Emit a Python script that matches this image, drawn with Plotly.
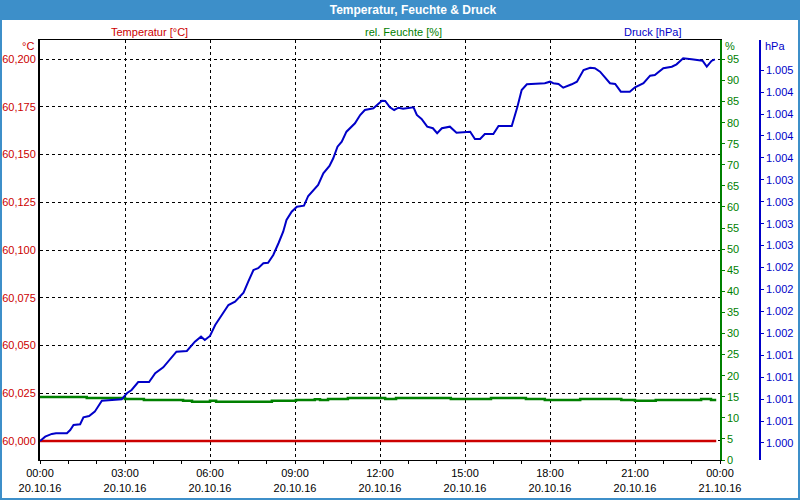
import plotly.graph_objects as go

DAY = "2016-10-20"

# ---- data ----
pressure_times = [
    "00:00", "00:11", "00:25", "00:34", "00:57", "01:04", "01:11", "01:25", "01:32", "01:44",
    "01:56", "02:07", "02:11", "02:53", "03:04", "03:14", "03:28", "03:51", "04:04", "04:21",
    "04:42", "04:49", "05:11", "05:28", "05:41", "05:49", "06:00", "06:11", "06:25", "06:39",
    "06:53", "07:11", "07:21", "07:32", "07:42", "07:53", "08:03", "08:14", "08:25", "08:35",
    "08:42", "08:53", "09:04", "09:19", "09:28", "09:39", "09:49", "10:00", "10:13", "10:21",
    "10:30", "10:39", "10:49", "11:07", "11:18", "11:28", "11:46", "12:04", "12:11", "12:21",
    "12:30", "12:39", "12:49", "13:11", "13:18", "13:28", "13:40", "13:52", "14:01", "14:11",
    "14:28", "14:42", "15:11", "15:21", "15:32", "15:42", "16:00", "16:11", "16:39", "16:51",
    "17:00", "17:11", "17:28", "17:49", "18:00", "18:07", "18:18", "18:28", "18:46", "18:57",
    "19:11", "19:25", "19:35", "19:46", "20:07", "20:18", "20:30", "20:49", "21:00", "21:18",
    "21:32", "21:42", "22:00", "22:18", "22:28", "22:42", "23:00", "23:17", "23:23", "23:32",
    "23:42", "23:49",
]
pressure_hpa = [
    1000.323, 1000.372, 1000.403, 1000.411, 1000.411, 1000.448, 1000.505, 1000.513, 1000.593, 1000.608,
    1000.657, 1000.753, 1000.782, 1000.798, 1000.867, 1000.904, 1000.995, 1000.995, 1001.095, 1001.163,
    1001.303, 1001.341, 1001.349, 1001.455, 1001.512, 1001.474, 1001.520, 1001.645, 1001.759, 1001.873,
    1001.911, 1002.013, 1002.139, 1002.272, 1002.292, 1002.349, 1002.355, 1002.443, 1002.577, 1002.709,
    1002.842, 1002.937, 1002.994, 1003.005, 1003.116, 1003.184, 1003.241, 1003.375, 1003.458, 1003.546,
    1003.678, 1003.735, 1003.849, 1003.945, 1004.039, 1004.096, 1004.116, 1004.202, 1004.199, 1004.127,
    1004.096, 1004.122, 1004.111, 1004.127, 1004.039, 1003.994, 1003.906, 1003.888, 1003.831, 1003.888,
    1003.906, 1003.837, 1003.849, 1003.766, 1003.766, 1003.823, 1003.823, 1003.914, 1003.914, 1004.134,
    1004.324, 1004.389, 1004.393, 1004.401, 1004.419, 1004.401, 1004.393, 1004.350, 1004.389, 1004.419,
    1004.552, 1004.578, 1004.572, 1004.533, 1004.401, 1004.393, 1004.305, 1004.305, 1004.355, 1004.401,
    1004.487, 1004.495, 1004.572, 1004.590, 1004.617, 1004.686, 1004.674, 1004.666, 1004.658, 1004.590,
    1004.655, 1004.674,
]

humidity_times = [
    "00:00", "01:39", "03:00", "03:40", "05:03", "05:22", "06:00", "06:13", "08:11", "09:02",
    "09:42", "09:53", "10:10", "10:52", "12:11", "12:34", "14:30", "15:55", "17:09", "17:49",
    "19:04", "20:31", "21:00", "21:44", "23:20", "23:41", "23:52",
]
humidity_pct = [
    14.94, 14.70, 14.47, 14.23, 14.06, 13.82, 14.06, 13.82, 14.06, 14.23,
    14.39, 14.23, 14.47, 14.70, 14.47, 14.70, 14.47, 14.70, 14.47, 14.23,
    14.47, 14.23, 14.06, 14.23, 14.47, 14.23, 14.23,
]

temperature_times = ["00:00", "06:00", "12:00", "18:00", "23:52"]
temperature_c = [60.000, 60.000, 60.000, 60.000, 60.000]

pressure_tick_values = [1000.30, 1000.55, 1000.80, 1001.05, 1001.30, 1001.55, 1001.80, 1002.05, 1002.30,
                        1002.55, 1002.80, 1003.05, 1003.30, 1003.55, 1003.80, 1004.05, 1004.30, 1004.55]
pressure_tick_labels = ["1.000", "1.001", "1.001", "1.001", "1.001", "1.002", "1.002", "1.002", "1.002",
                        "1.003", "1.003", "1.003", "1.003", "1.004", "1.004", "1.004", "1.004", "1.005"]

RED = "#cc0000"
GREEN = "#008000"
BLUE = "#0000c8"
FRAME = "#3d8fc9"
FONT = "Liberation Sans"


def stamp(times):
    return [f"{DAY} {t}" for t in times]


fig = go.Figure()
fig.add_trace(go.Scatter(x=stamp(temperature_times), y=temperature_c, mode="lines",
                         line=dict(color=RED, width=2.5), yaxis="y", name="Temperatur"))
fig.add_trace(go.Scatter(x=stamp(humidity_times), y=humidity_pct, mode="lines",
                         line=dict(color=GREEN, width=2.5, shape="hv"), yaxis="y2", name="rel. Feuchte"))
fig.add_trace(go.Scatter(x=stamp(pressure_times), y=pressure_hpa, mode="lines",
                         line=dict(color=BLUE, width=2), yaxis="y3", name="Druck"))

grid = dict(showgrid=True, gridcolor="black", gridwidth=1, griddash="3px,3px")

fig.update_layout(
    width=800, height=500,
    margin=dict(l=40, r=40, t=40, b=40, autoexpand=False),
    paper_bgcolor="white", plot_bgcolor="white",
    separators=",.",
    showlegend=False,
    font=dict(family=FONT, size=11, color="black"),
    title=dict(text="<b>Temperatur, Feuchte &amp; Druck</b>", x=413 / 800, xref="container",
               xanchor="center", y=1 - 10 / 500, yref="container", yanchor="middle",
               font=dict(family=FONT, size=12, color="white")),
    xaxis=dict(domain=[0, 680 / 720], type="date", automargin=False,
               range=[f"{DAY} 00:00", "2016-10-21 00:00"],
               tickmode="linear", tick0=f"{DAY} 00:00", dtick=3 * 3600000,
               tickformat="%H:%M<br>%d.%m.%y",
               ticks="outside", ticklen=3, tickcolor="black",
               minor=dict(tickmode="linear", tick0=f"{DAY} 00:00", dtick=3600000,
                          ticks="outside", ticklen=3, tickcolor="black", showgrid=False),
               showline=True, linecolor="black", linewidth=1, mirror=True,
               zeroline=False, tickfont=dict(size=11, color="black"), **grid),
    yaxis=dict(range=[59.990, 60.210], tickmode="linear", tick0=60.0, dtick=0.025, automargin=False,
               tickformat=".3f", ticks="", showline=True, linecolor="black", linewidth=2,
               zeroline=False, tickfont=dict(size=11, color=RED), **grid),
    yaxis2=dict(range=[0, 99.6], tickmode="linear", tick0=0, dtick=5, automargin=False,
                overlaying="y", side="right", anchor="x",
                ticks="outside", ticklen=3, tickcolor=GREEN,
                showline=True, linecolor=GREEN, linewidth=1.5, showgrid=False, zeroline=False,
                tickfont=dict(size=11, color=GREEN)),
    yaxis3=dict(range=[1000.106, 1004.894], tickmode="array", automargin=False,
                tickvals=pressure_tick_values, ticktext=pressure_tick_labels,
                overlaying="y", side="right", anchor="free", position=1.0,
                ticks="outside", ticklen=3, tickcolor=BLUE,
                showline=True, linecolor=BLUE, linewidth=1.5, showgrid=False, zeroline=False,
                tickfont=dict(size=11, color=BLUE)),
)

# outer frame and title bar
fig.add_shape(type="rect", xref="paper", yref="paper",
              x0=-40 / 720, x1=760 / 720, y0=(460 - 20) / 420, y1=460 / 420,
              fillcolor=FRAME, line=dict(width=0), layer="below")
fig.add_shape(type="rect", xref="paper", yref="paper",
              x0=-39 / 720, x1=759 / 720, y0=(460 - 499) / 420, y1=459 / 420,
              fillcolor="rgba(0,0,0,0)", line=dict(color=FRAME, width=2), layer="above")


def label(text, px, py, color, anchor="center"):
    fig.add_annotation(text=text, xref="paper", yref="paper",
                       x=(px - 40) / 720, y=(460 - py) / 420,
                       xanchor=anchor, yanchor="middle", showarrow=False,
                       font=dict(family=FONT, size=11, color=color))


label("Temperatur [°C]", 149, 32, RED)
label("rel. Feuchte [%]", 403, 32, GREEN)
label("Druck [hPa]", 652, 32, BLUE)
label("°C", 36, 46, RED, "right")
label("%", 723, 46, GREEN, "left")
label("hPa", 763, 46, BLUE, "left")

fig.write_html("out.html",
               config={"displayModeBar": False},
               post_script="document.body.style.margin='0';document.body.style.padding='0';"
                           "document.body.style.overflow='hidden';")
